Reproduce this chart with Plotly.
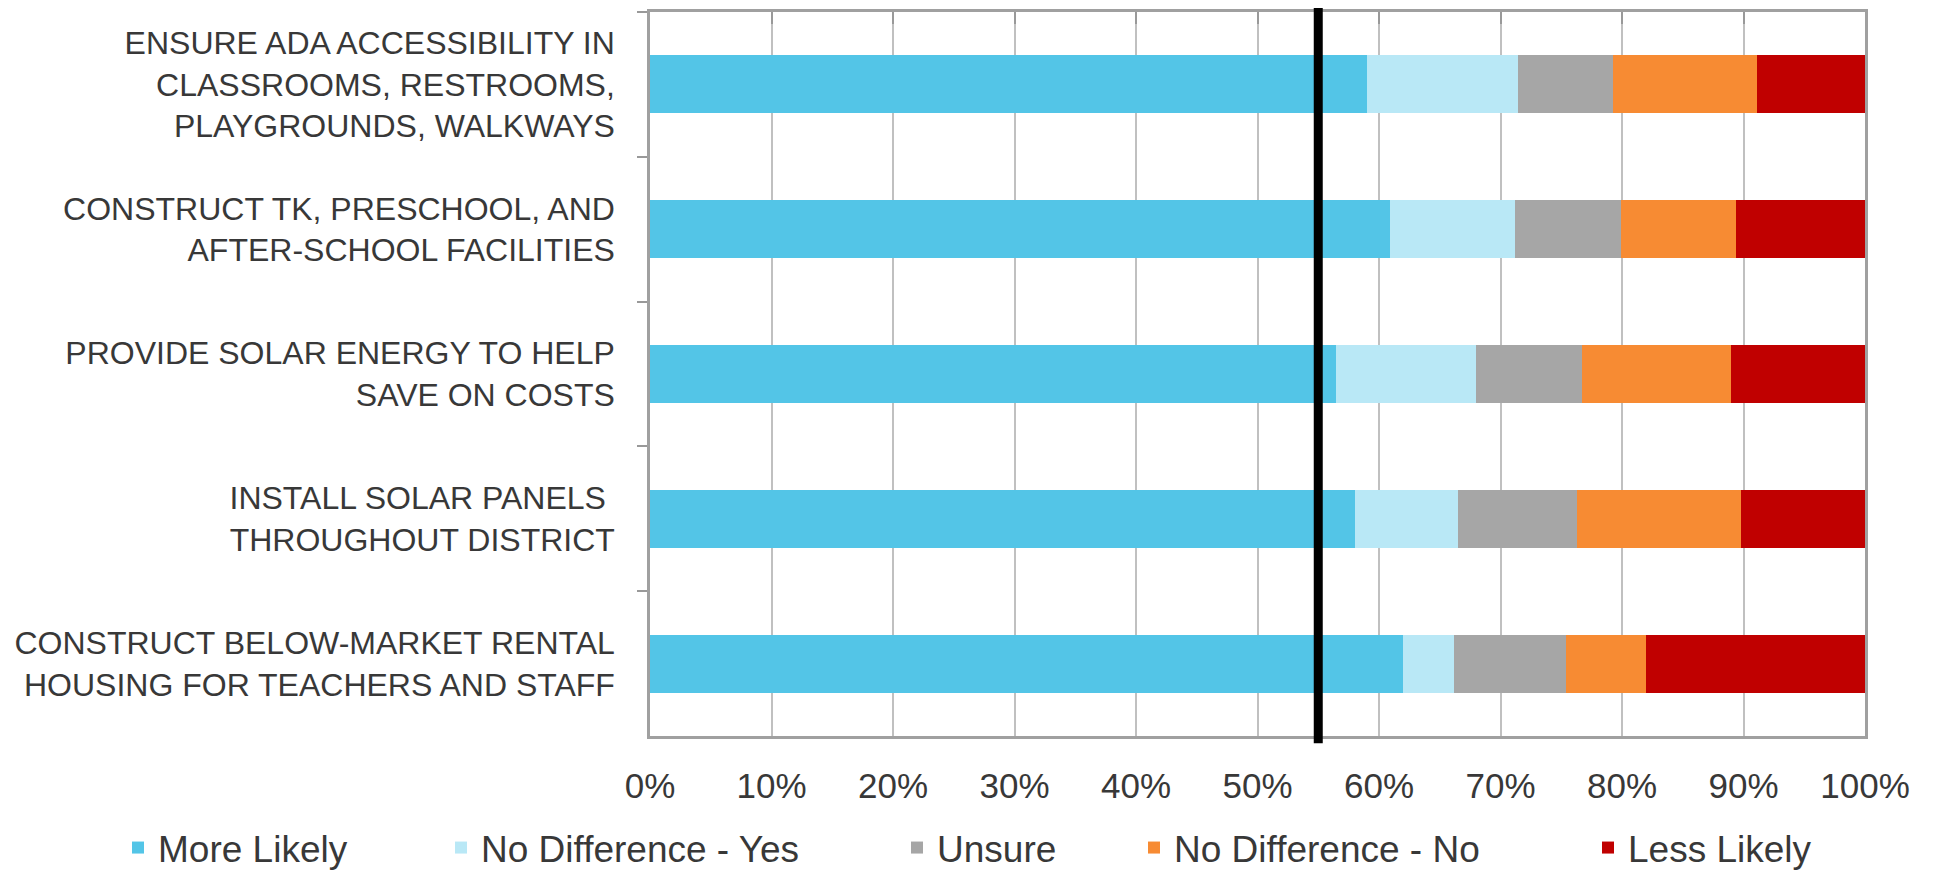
import plotly.graph_objects as go

# categories listed top to bottom
categories = [
    "ENSURE ADA ACCESSIBILITY IN<br>CLASSROOMS, RESTROOMS,<br>PLAYGROUNDS, WALKWAYS",
    "CONSTRUCT TK, PRESCHOOL, AND<br>AFTER-SCHOOL FACILITIES",
    "PROVIDE SOLAR ENERGY TO HELP<br>SAVE ON COSTS",
    "INSTALL SOLAR PANELS <br>THROUGHOUT DISTRICT",
    "CONSTRUCT BELOW-MARKET RENTAL<br>HOUSING FOR TEACHERS AND STAFF",
]

more_likely = [0.590, 0.609, 0.565, 0.580, 0.620]
no_diff_yes = [0.124, 0.103, 0.115, 0.085, 0.042]
unsure = [0.079, 0.087, 0.087, 0.098, 0.092]
no_diff_no = [0.118, 0.095, 0.123, 0.135, 0.066]
less_likely = [0.089, 0.106, 0.110, 0.102, 0.180]

threshold = 0.55

series = [
    ("More Likely", more_likely, "#53C5E7"),
    ("No Difference - Yes", no_diff_yes, "#B9E8F6"),
    ("Unsure", unsure, "#A6A6A6"),
    ("No Difference - No", no_diff_no, "#F78B33"),
    ("Less Likely", less_likely, "#C00000"),
]

# left edge of each legend entry (pixels, figure coords)
legend_x_px = [110, 433, 889, 1126, 1580]

FONT = "'Liberation Sans', Arial, sans-serif"
TEXT = "#383838"
W, H = 1933, 873

fig = go.Figure()
legend_layout = {}
for i, (name, vals, color) in enumerate(series):
    key = "legend" if i == 0 else f"legend{i + 1}"
    fig.add_trace(go.Bar(
        y=categories,
        x=vals,
        name=name,
        orientation="h",
        marker=dict(color=color, line=dict(width=0)),
        hoverinfo="name+x",
        legend=key,
    ))
    legend_layout[key] = dict(
        orientation="h",
        xref="container", yref="container",
        x=legend_x_px[i] / W, xanchor="left",
        y=1 - 840 / H, yanchor="middle",
        font=dict(family=FONT, size=37, color=TEXT),
        bgcolor="rgba(0,0,0,0)",
    )

# invisible point on the top axis so its tick marks get drawn
fig.add_trace(go.Scatter(
    x=[0], y=[categories[0]], xaxis="x2", mode="markers",
    marker=dict(opacity=0), showlegend=False, hoverinfo="skip",
))

fig.add_shape(
    type="line", xref="x", yref="paper",
    x0=threshold, x1=threshold, y0=-0.01, y1=1.007,
    line=dict(color="black", width=9),
)

fig.update_layout(
    barmode="stack",
    bargap=0.6,
    width=W,
    height=H,
    paper_bgcolor="white",
    plot_bgcolor="white",
    font=dict(family=FONT, size=32, color=TEXT),
    margin=dict(l=642, r=76, t=4, b=145),
    showlegend=True,
    **legend_layout,
    xaxis=dict(
        range=[0, 1],
        dtick=0.1,
        tickformat=".0%",
        showgrid=True,
        gridcolor="#C0C0C0",
        gridwidth=1.5,
        showline=True,
        linecolor="#A0A0A0",
        linewidth=2.5,
        ticks="",
        ticklabelstandoff=17,
        zeroline=False,
        automargin=False,
        tickfont=dict(size=35, color=TEXT),
    ),
    xaxis2=dict(
        range=[0, 1],
        dtick=0.1,
        overlaying="x",
        side="top",
        showticklabels=False,
        showgrid=False,
        ticks="inside",
        ticklen=12,
        tickwidth=2,
        tickcolor="#999999",
        showline=True,
        linecolor="#A0A0A0",
        linewidth=2.5,
        zeroline=False,
        automargin=False,
    ),
    yaxis=dict(
        categoryorder="array",
        categoryarray=categories,
        autorange="reversed",
        tickson="boundaries",
        ticks="outside",
        ticklen=10,
        tickwidth=2,
        tickcolor="#999999",
        showline=True,
        linecolor="#A0A0A0",
        linewidth=2.5,
        mirror=True,
        showgrid=False,
        automargin=False,
        ticklabelstandoff=26,
        tickfont=dict(size=32, color=TEXT),
    ),
)

fig.write_html("out.html")
